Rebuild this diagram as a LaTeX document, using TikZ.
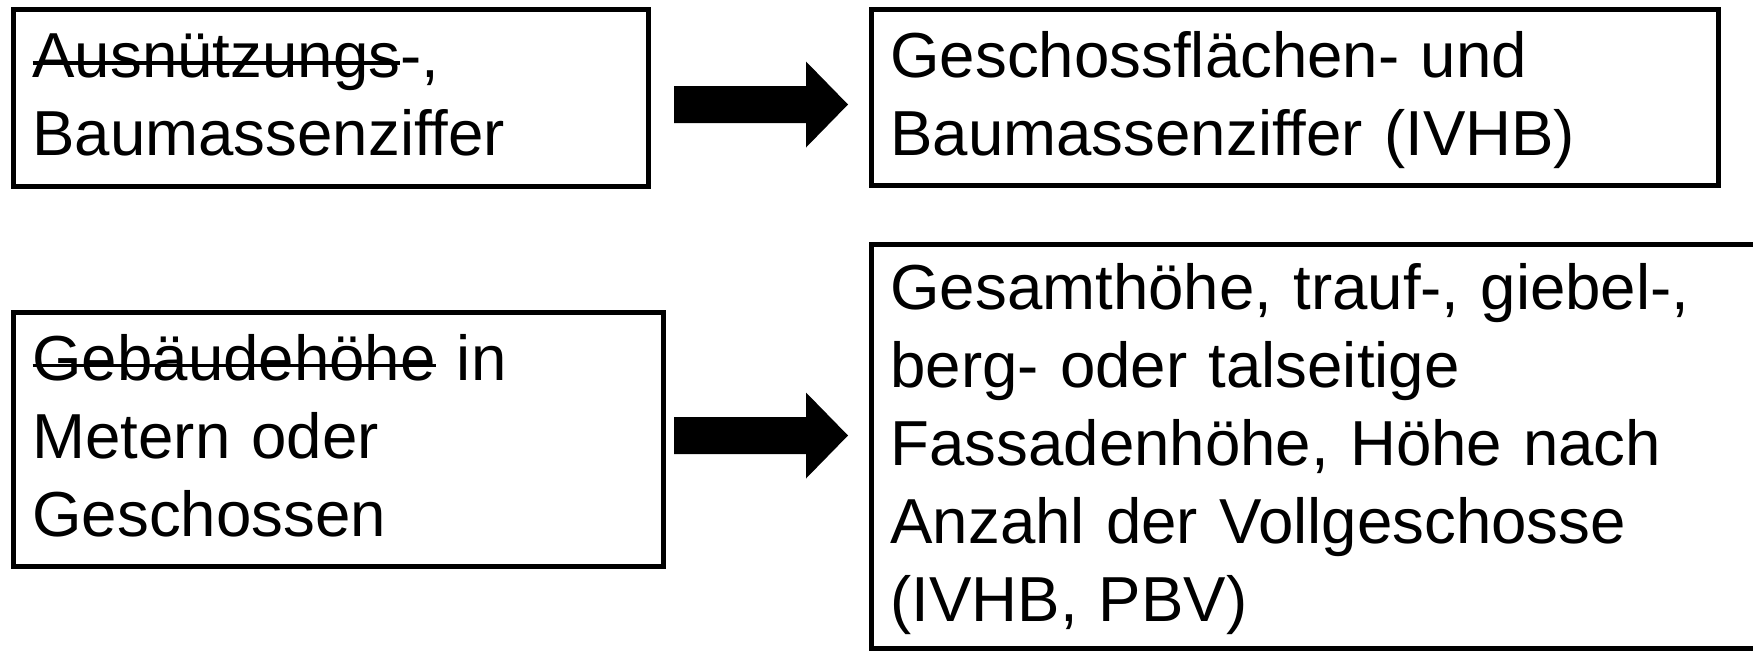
\documentclass[tikz,border=0pt]{standalone}
\usepackage{fontspec}
\setmainfont{Liberation Sans}
\newsavebox\strikebox
\newcommand\xstrike[1]{\sbox\strikebox{#1}\rlap{\rule[12.75pt]{\wd\strikebox}{3.5pt}}\usebox\strikebox}
\newcommand\topstrut{\rule{0pt}{52pt}}
\newcommand\botstrut{\rule[-14pt]{0pt}{14pt}}
\tikzset{
  box/.style={draw=black, line width=5pt, rectangle, inner xsep=19.5pt, inner ysep=0pt,
    align=left, font=\fontsize{63.6}{78}\selectfont, text=black},
  blockarrow/.style={fill=black, draw=none}
}
\begin{document}
\begin{tikzpicture}[x=1pt, y=-1pt]
\useasboundingbox (0,0) rectangle (1753,653);
\clip (0,0) rectangle (1753,653);
\fill[white] (0,0) rectangle (1753,653);

\node[box, minimum width=635pt, minimum height=177pt, text width=596pt] (b1) at (330.5,97.5)
  {\topstrut\xstrike{Ausnützungs}-,\\Baumassenziffer\botstrut};
\node[box, minimum width=847pt, minimum height=176.5pt, text width=808pt] (b2) at (1294.5,97.25)
  {\topstrut Geschossflächen- und\\Baumassenziffer (IVHB)\botstrut};
\node[box, minimum width=650pt, minimum height=254pt, text width=611pt] (b3) at (338,439)
  {\topstrut\xstrike{Gebäudehöhe} in\\Metern oder\\Geschossen\botstrut};
\node[box, minimum width=899pt, minimum height=404pt, text width=860pt] (b4) at (1320.5,446.5)
  {\topstrut Gesamthöhe, trauf-, giebel-,\\berg- oder talseitige\\Fassadenhöhe, Höhe nach\\Anzahl der Vollgeschosse\\(IVHB, PBV)\botstrut};

\coordinate (t1) at (674,104.5);
\coordinate (t2) at (674,435.5);
\fill[blockarrow] (t1) ++(0,-18.5) -- ++(132,0) -- ++(0,-24.5) -- ++(42,43) -- ++(-42,43) -- ++(0,-24.5) -- ++(-132,0) -- cycle;
\fill[blockarrow] (t2) ++(0,-18.5) -- ++(132,0) -- ++(0,-24.5) -- ++(42,43) -- ++(-42,43) -- ++(0,-24.5) -- ++(-132,0) -- cycle;
\end{tikzpicture}
\end{document}
